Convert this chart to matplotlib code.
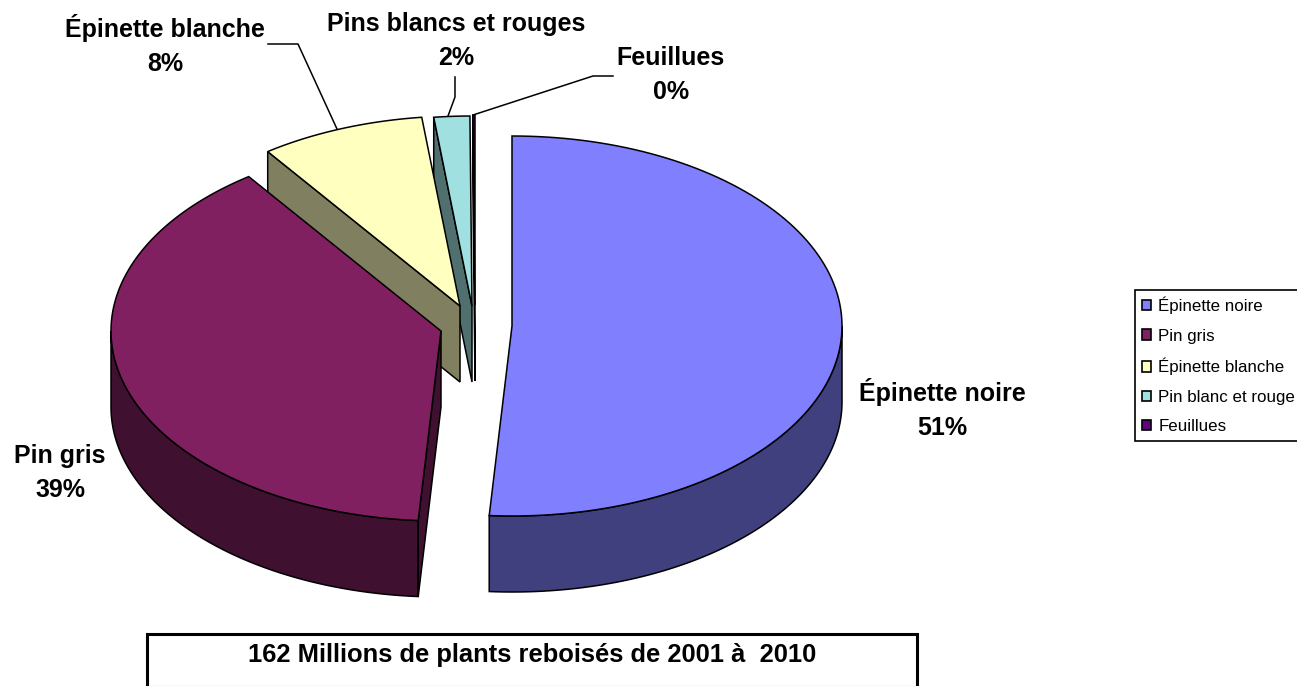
# -*- coding: utf-8 -*-
"""
3D-style exploded pie: plants reboises 2001-2010
"""

import numpy as np
import matplotlib
matplotlib.use('Agg')
import matplotlib.pyplot as plt
from matplotlib.patches import Polygon, Patch, Rectangle

# --------------------------------------------------
# Data
# --------------------------------------------------
legend_names = ['Épinette noire', 'Pin gris', 'Épinette blanche', 'Pin blanc et rouge', 'Feuillues']
label_names = ['Épinette noire', 'Pin gris', 'Épinette blanche', 'Pins blancs et rouges', 'Feuillues']
percent_labels = ['51%', '39%', '8%', '2%', '0%']
shares = [51.1, 39.0, 8.05, 1.75, 0.1]
note = '162 Millions de plants reboisés de 2001 à  2010'

top_colors = ['#8080FF', '#802060', '#FFFFC0', '#A0E0E0', '#600080']
side_colors = ['#40407F', '#401030', '#808060', '#507070', '#300040']

# --------------------------------------------------
# Layout (pixels)
# --------------------------------------------------
apex_x = [512, 441, 460, 472, 475]
apex_y = [326, 331, 306, 306, 305]
rx = 330
ry = 190
depth = 76
label_x = [942, 60, 165, 456, 671]
label_y = [409, 473, 45, 41, 75]

W, H = 1297, 686
plt.rcParams['font.family'] = ['Liberation Sans', 'DejaVu Sans']

fig = plt.figure(figsize=(W / 100, H / 100), dpi=100)
ax = fig.add_axes([0, 0, 1, 1])
ax.set_xlim(0, W)
ax.set_ylim(H, 0)
ax.axis('off')

# angles run clockwise from 12 o'clock
edges = np.cumsum([0] + shares) / sum(shares) * 360
lw = 1.1


def rim(cx, cy, t0, t1):
    t = np.radians(np.linspace(t0, t1, 120))
    return np.column_stack([cx + rx * np.sin(t), cy - ry * np.cos(t)])


# back slices first so the front ones cover them
for i in [4, 3, 2, 1, 0]:
    cx, cy = apex_x[i], apex_y[i]
    t0, t1 = edges[i], edges[i + 1]
    apex = np.array([cx, cy])
    drop = np.array([0, depth])

    # outer wall, only the part that faces the viewer
    a0, a1 = max(t0, 90), min(t1, 270)
    if a1 > a0:
        arc = rim(cx, cy, a0, a1)
        ax.add_patch(Polygon(np.vstack([arc, arc[::-1] + drop]), closed=True,
                             fc=side_colors[i], ec='black', lw=lw))

    # cut wall on the starting edge, the first slice has none showing
    if i > 0:
        p = rim(cx, cy, t0, t0)[0]
        ax.add_patch(Polygon([apex, p, p + drop, apex + drop], closed=True,
                             fc=side_colors[i], ec='black', lw=lw))

    # top face
    ax.add_patch(Polygon(np.vstack([apex, rim(cx, cy, t0, t1)]), closed=True,
                         fc=top_colors[i], ec='black', lw=lw))

# --------------------------------------------------
# Leader lines
# --------------------------------------------------
ax.plot([268, 298, 337], [44, 44, 129], color='black', lw=lw)
ax.plot([455, 455, 448], [77, 97, 116], color='black', lw=lw)
ax.plot([473, 593, 613], [115, 76, 76], color='black', lw=lw)

# --------------------------------------------------
# Labels
# --------------------------------------------------
for name, pct, x, y in zip(label_names, percent_labels, label_x, label_y):
    ax.text(x, y, name + '\n' + pct, ha='center', va='center', fontsize=18,
            fontweight='bold', linespacing=1.56, color='black')

# --------------------------------------------------
# Legend
# --------------------------------------------------
handles = [Patch(fc=c, ec='black', lw=1.2) for c in top_colors]
leg = ax.legend(handles, legend_names, loc='upper left',
                bbox_to_anchor=(1135, 289.5), bbox_transform=ax.transData,
                fontsize=12.2, frameon=True, fancybox=False, framealpha=1,
                edgecolor='black', borderpad=0.42, borderaxespad=0,
                labelspacing=0.85, handlelength=0.55, handleheight=0.55,
                handletextpad=0.4)
leg.get_frame().set_linewidth(1.2)

# --------------------------------------------------
# Note box
# --------------------------------------------------
ax.add_patch(Rectangle((147, 634), 770, 53, fc='white', ec='black', lw=2.2))
ax.text(532, 662, note, ha='center', va='baseline', fontsize=18.4,
        fontweight='bold', color='black')

plt.savefig('out.png', dpi=100)
